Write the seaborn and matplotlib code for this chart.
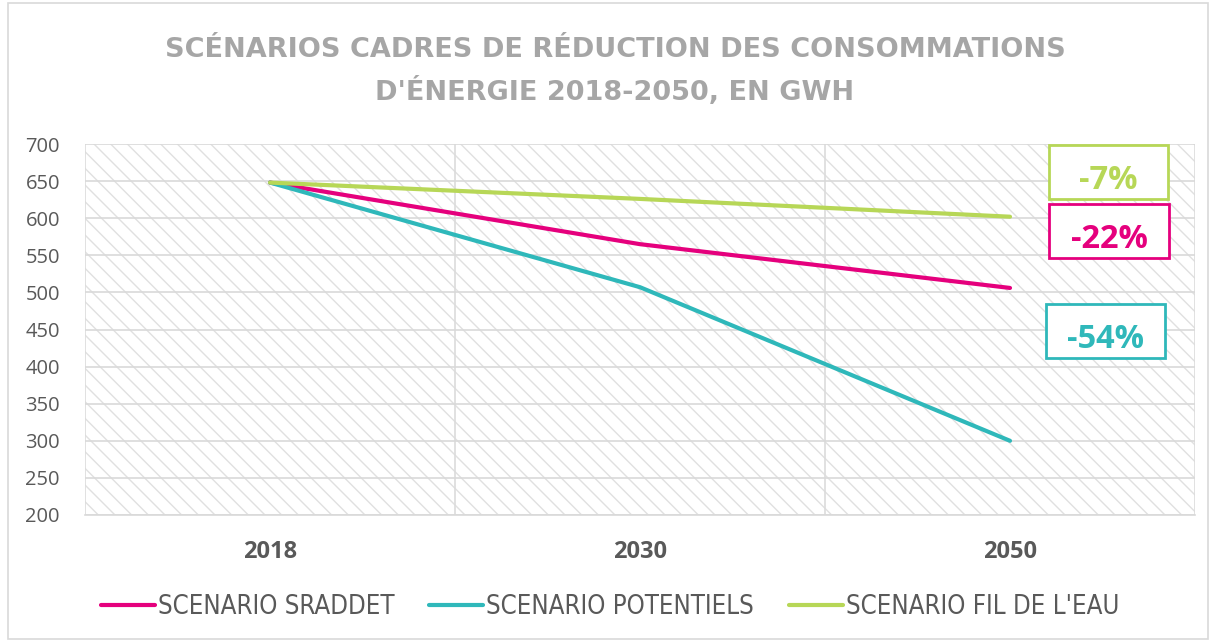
import pandas as pd
import matplotlib.pyplot as plt
import seaborn as sns
from matplotlib.patches import Rectangle
from matplotlib import font_manager

# data
years = ["2018", "2030", "2050"]
sraddet = [648, 565, 506]
potentiels = [648, 507, 300]
fil_de_leau = [648, 626, 602]
series_names = ["SCENARIO SRADDET", "SCENARIO POTENTIELS", "SCENARIO FIL DE L'EAU"]
badges = ["-22%", "-54%", "-7%"]
colors = ["#e5007d", "#2fb8ba", "#b7d757"]

df = pd.DataFrame({
    "year": years * 3,
    "gwh": sraddet + potentiels + fil_de_leau,
    "scenario": [s for s in series_names for _ in years],
})

sns.set_theme(style="white")
plt.rcParams['font.family'] = ['Open Sans', 'DejaVu Sans']
plt.rcParams['hatch.linewidth'] = 1.0
plt.rcParams['hatch.color'] = '#e0e0e0'

# narrow font for the legend, if one is installed
legend_prop = {"family": ["Open Sans"], "size": 14}
for fam, stretch in [("Liberation Sans Narrow", "normal"), ("DejaVu Sans", "condensed")]:
    try:
        path = font_manager.findfont(font_manager.FontProperties(family=fam, stretch=stretch),
                                     fallback_to_default=False)
        if "Narrow" in path or "Condensed" in path:
            legend_prop = {"family": [fam], "stretch": stretch, "size": 18.5}
            break
    except Exception:
        pass

fig = plt.figure(figsize=(12.12, 6.41), dpi=100)
ax = fig.add_axes([85 / 1212, 1 - 515 / 641, 1110 / 1212, 371 / 641])

# hatched plot background
ax.add_patch(Rectangle((0, 0), 1, 1, transform=ax.transAxes, facecolor="white",
                       edgecolor="#e0e0e0", hatch="\\\\", linewidth=0, zorder=0))

sns.lineplot(data=df, x="year", y="gwh", hue="scenario", palette=colors,
             linewidth=3, ax=ax, zorder=3, sort=False)

ax.set_xlim(-0.5, 2.5)
ax.set_ylim(200, 700)
ax.set_yticks(range(200, 701, 50))
ax.set_xticks([-0.5, 0.5, 1.5, 2.5], minor=True)
ax.grid(axis="y", color="#d9d9d9", linewidth=1.2, zorder=1)
ax.grid(axis="x", which="minor", color="#dcdcdc", linewidth=1.2, zorder=1)
ax.set_axisbelow(True)
for side in ["top", "right", "left"]:
    ax.spines[side].set_visible(False)
ax.spines["bottom"].set_color("#d9d9d9")
ax.spines["bottom"].set_linewidth(1.2)
ax.tick_params(axis="y", labelsize=14.5, labelcolor="#595959", length=0, pad=18)
ax.tick_params(axis="x", which="both", labelsize=17, labelcolor="#595959", length=0, pad=18)
for lbl in ax.get_xticklabels():
    lbl.set_fontweight("bold")
ax.set_xlabel("")
ax.set_ylabel("")

# percentage badges (fixed-size boxes)
badge_boxes = [(1049, 204, 120, 54), (1046, 304, 119, 54), (1049, 145, 119, 54)]
for (bx, by, bw, bh), txt, c in zip(badge_boxes, badges, colors):
    fig.add_artist(Rectangle((bx / 1212, 1 - (by + bh) / 641), bw / 1212, bh / 641,
                             transform=fig.transFigure, facecolor="white", edgecolor=c,
                             linewidth=2, zorder=5))
    fig.text((bx + bw / 2) / 1212, 1 - (by + bh / 2 + 9) / 641, txt, ha="center", va="center",
             fontsize=23.5, fontweight="bold", color=c, zorder=6)

# title
title_lines = ["SCÉNARIOS CADRES DE RÉDUCTION DES CONSOMMATIONS", "D'ÉNERGIE 2018-2050, EN GWH"]
for txt, ty in zip(title_lines, [50, 92]):
    fig.text(615 / 1212, 1 - ty / 641, txt, ha="center", va="center", fontsize=19.5,
             fontweight="bold", color="#a6a6a6", family=["DejaVu Sans"])

handles, labels = ax.get_legend_handles_labels()
ax.legend(handles, labels, loc="center", bbox_to_anchor=((610 - 85) / 1110, (515 - 607) / 371),
          ncol=3, frameon=False, handlelength=2.1, handletextpad=0.12,
          columnspacing=1.35, labelcolor="#595959", prop=legend_prop)

# outer chart border
fig.add_artist(Rectangle((8 / 1212, 2 / 641), 1200 / 1212, 636 / 641, transform=fig.transFigure,
                         fill=False, edgecolor="#d9d9d9", linewidth=1.2))

fig.savefig("out.png", dpi=100)
